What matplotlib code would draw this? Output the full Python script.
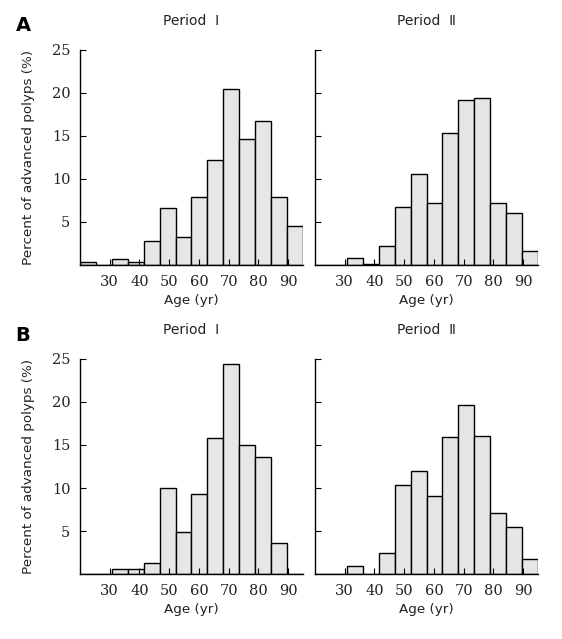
import numpy as np
import matplotlib.pyplot as plt

# age bins: 14 equal bins between 20 and 95 years
bin_edges = np.linspace(20, 95, 15)
age_ticks = [30, 40, 50, 60, 70, 80, 90]
pct_ticks = [5, 10, 15, 20, 25]

# percent of advanced polyps per age bin
a_period1 = [0.3, 0.0, 0.75, 0.35, 2.8, 6.6, 3.25, 7.9, 12.2, 20.5, 14.7, 16.7, 7.9, 4.5]
a_period2 = [0.0, 0.0, 0.8, 0.1, 2.2, 6.8, 10.6, 7.2, 15.4, 19.2, 19.4, 7.2, 6.0, 1.6]
b_period1 = [0.0, 0.0, 0.6, 0.6, 1.3, 10.0, 4.9, 9.3, 15.8, 24.4, 15.0, 13.6, 3.6, 0.0]
b_period2 = [0.0, 0.0, 0.9, 0.0, 2.4, 10.3, 12.0, 9.1, 15.9, 19.7, 16.0, 7.1, 5.5, 1.8]

titles = ['Period  \u2160', 'Period  \u2161']
label_font = 'DejaVu Sans'
tick_font = 'DejaVu Serif'

fig = plt.figure(figsize=(5.62, 6.39), dpi=100)

panels = [
    (a_period1, [0.1423, 0.5853, 0.3968, 0.3365], 0, True),
    (a_period2, [0.5605, 0.5853, 0.3968, 0.3365], 1, False),
    (b_period1, [0.1423, 0.1017, 0.3968, 0.3365], 0, True),
    (b_period2, [0.5605, 0.1017, 0.3968, 0.3365], 1, False),
]

widths = np.diff(bin_edges)
for values, rect, ti, show_y in panels:
    ax = fig.add_axes(rect)
    ax.bar(bin_edges[:-1], values, width=widths, align='edge',
           color='#e6e6e6', edgecolor='black', linewidth=1.0)
    ax.set_xlim(20, 95)
    ax.set_ylim(0, 25)
    ax.set_xticks(age_ticks)
    ax.set_yticks(pct_ticks)
    for s in ['top', 'right']:
        ax.spines[s].set_visible(False)
    for s in ['left', 'bottom']:
        ax.spines[s].set_linewidth(1.0)
    ax.tick_params(direction='in', length=4, width=0.8, labelsize=10.5, pad=7)
    for lab in ax.get_xticklabels() + ax.get_yticklabels():
        lab.set_family(tick_font)
        lab.set_color('#222222')
    if show_y:
        ax.set_ylabel('Percent of advanced polyps (%)', family=label_font,
                      fontsize=9.7, color='#222222', labelpad=12)
    else:
        ax.set_yticklabels([])
    ax.set_xlabel('Age (yr)', family=label_font, fontsize=9.7,
                  color='#222222', labelpad=4)
    ax.set_title(titles[ti], family=label_font, fontsize=10,
                 color='#222222', pad=18)

fig.text(0.028, 0.952, 'A', fontsize=14, fontweight='bold', family=label_font)
fig.text(0.028, 0.466, 'B', fontsize=14, fontweight='bold', family=label_font)

fig.savefig('out.png', dpi=100)
